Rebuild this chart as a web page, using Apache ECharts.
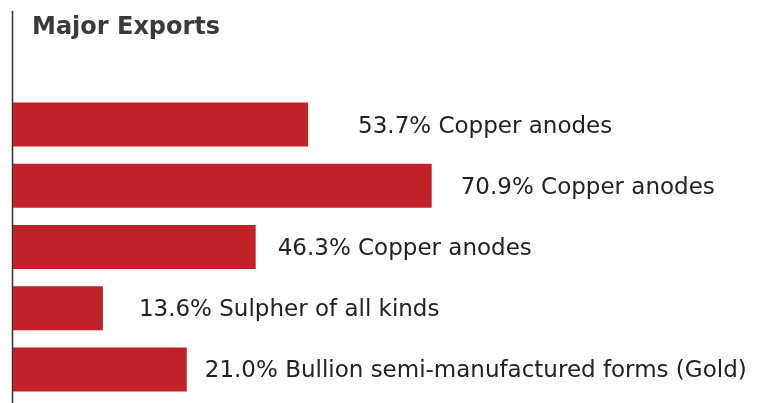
<!DOCTYPE html>
<html lang="en">
	<head>
		<meta charset="UTF-8">
		<title>Major Exports</title>
		<script src="https://cdn.jsdelivr.net/npm/echarts@6/dist/echarts.min.js"></script>
		<style>
			html,body{margin:0;width:100%;height:100%;background:#fff;}
			#chart{width:762px;height:403px;}
		</style>
	</head>
	<body>
		<div id="chart"></div>
	</body>
	<script>
		// products, top to bottom
		var categories = ['Copper anodes 1', 'Copper anodes 2', 'Copper anodes 3', 'Sulpher', 'Bullion'];
		// bar lengths as drawn (scale 0-100)
		var barValues = [39.4, 55.9, 32.4, 12.0, 23.2];
		// share shown in the label
		var shares = ['53.7%', '70.9%', '46.3%', '13.6%', '21.0%'];
		var products = ['Copper anodes', 'Copper anodes', 'Copper anodes', 'Sulpher of all kinds', 'Bullion semi-manufactured forms (Gold)'];

		// label distance from bar end, as in the original
		var labelGaps = [50, 29, 22, 36, 18];

		var myChart = echarts.init(document.getElementById('chart'));

		var data = [];
		for (var i = 0; i < barValues.length; i++) {
			data.push({
				value: barValues[i],
				label: {distance: labelGaps[i], formatter: shares[i] + ' ' + products[i]}
			});
		}

		var options = {
			animation: false,
			title: {
				text: 'Major Exports',
				left: 27,
				top: 11,
				textStyle: {
					fontFamily: 'DejaVu Sans',
					fontSize: 24,
					fontWeight: 'bold',
					color: '#3a3a3a'
				}
			},
			grid: {left: 13, right: 0, top: 94, bottom: 3},
			xAxis: {
				type: 'value',
				min: 0,
				max: 100,
				show: false
			},
			yAxis: {
				type: 'category',
				inverse: true,
				data: categories,
				axisLine: {show: false},
				axisTick: {show: false},
				axisLabel: {show: false}
			},
			graphic: [{
				type: 'line',
				shape: {x1: 12.5, y1: 11, x2: 12.5, y2: 403},
				style: {stroke: '#333', lineWidth: 1.5}
			}],
			series: [{
				type: 'bar',
				barWidth: 44,
				itemStyle: {color: '#bf2228'},
				label: {
					show: true,
					position: 'right',
					offset: [0, 2],
					fontFamily: 'DejaVu Sans',
					fontSize: 23,
					color: '#222'
				},
				data: data
			}]
		};
		myChart.setOption(options);
	</script>
</html>
